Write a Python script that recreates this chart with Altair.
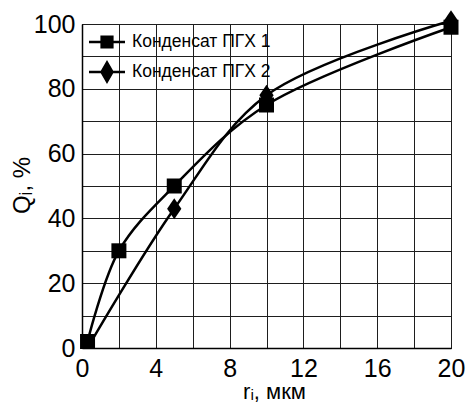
import altair as alt
import pandas as pd

# Series data
s1_name = "Конденсат ПГХ 1"
s1_x = [0.3, 2, 5, 10, 20]
s1_y = [2, 30, 50, 75, 99]
s1_marker = [True, True, True, True, True]

s2_name = "Конденсат ПГХ 2"
s2_x = [0.4, 5, 10, 20]
s2_y = [1, 43, 78, 101]
s2_marker = [False, True, True, True]

x_grid = list(range(0, 21, 2))
y_grid = list(range(0, 101, 10))

rows = []
for n, xs, ys, ms in [(s1_name, s1_x, s1_y, s1_marker), (s2_name, s2_x, s2_y, s2_marker)]:
    for x, y, m in zip(xs, ys, ms):
        rows.append({"series": n, "r": x, "q": y, "marker": m})
df = pd.DataFrame(rows)

FONT = "Liberation Sans"
SQUARE = "M-1,-1H1V1H-1Z"
DIAMOND = "M0,-1L0.68,0L0,1L-0.68,0Z"
LEG_SQ = "M-1.2,-0.085H1.2V0.085H-1.2Z M-0.44,-0.44H0.44V0.44H-0.44Z"
LEG_DI = "M-1.2,-0.085H1.2V0.085H-1.2Z M0,-0.8L0.46,0L0,0.8L-0.46,0Z"

xs = alt.X("r:Q", scale=alt.Scale(domain=[0, 20], nice=False),
           axis=alt.Axis(values=x_grid, labelExpr="datum.value % 4 == 0 ? datum.label : ''",
                         ticks=False, grid=True, gridColor="#1e1e1e", gridWidth=1,
                         domainColor="black", domainWidth=1.5,
                         labelFont=FONT, labelFontSize=25, labelColor="black", labelPadding=8,
                         labelFlush=False,
                         title="rᵢ, мкм", titleFont=FONT, titleFontSize=22, titleFontWeight="normal",
                         titleColor="black", titleX=192, titleY=50, titleAlign="center",
                         titleBaseline="alphabetic"))
ys = alt.Y("q:Q", scale=alt.Scale(domain=[0, 100], nice=False),
           axis=alt.Axis(values=y_grid, labelExpr="datum.value % 20 == 0 ? datum.label : ''",
                         ticks=False, grid=True, gridColor="#1e1e1e", gridWidth=1,
                         domainColor="black", domainWidth=1.5,
                         labelFont=FONT, labelFontSize=25, labelColor="black", labelPadding=7,
                         labelFlush=False,
                         title="Qᵢ, %", titleFont=FONT, titleFontSize=24, titleFontWeight="normal",
                         titleColor="black", titleX=-60, titleY=161, titleAlign="center",
                         titleBaseline="middle", titleAngle=270))

base = alt.Chart(df)

lines = base.mark_line(color="black", strokeWidth=2.5, interpolate="catmull-rom").encode(
    x=xs, y=ys, detail="series:N")

diamonds = base.transform_filter(
    (alt.datum.series == s2_name) & alt.datum.marker
).mark_point(shape=DIAMOND, filled=True, color="black", opacity=1, size=441).encode(x=xs, y=ys)

squares = base.transform_filter(
    (alt.datum.series == s1_name) & alt.datum.marker
).mark_point(shape=SQUARE, filled=True, color="black", opacity=1, size=225).encode(x=xs, y=ys)

legend_layer = base.mark_point(filled=True, color="black", opacity=0).encode(
    x=xs, y=ys,
    shape=alt.Shape("series:N",
                    scale=alt.Scale(domain=[s1_name, s2_name], range=[LEG_SQ, LEG_DI]),
                    legend=alt.Legend(title=None, orient="none", legendX=10, legendY=3,
                                      padding=0, rowPadding=6, symbolSize=900,
                                      symbolFillColor="black", symbolStrokeColor="black",
                                      symbolStrokeWidth=0, symbolOpacity=1,
                                      labelFont=FONT, labelFontSize=17.5, labelColor="black",
                                      labelOffset=10)))

chart = alt.layer(lines, diamonds, squares, legend_layer).properties(
    width=369, height=324,
    autosize=alt.AutoSizeParams(type="none"),
    padding={"left": 82, "top": 24, "right": 22, "bottom": 55},
    background="white",
).configure_view(stroke="black", strokeWidth=1)

chart.save("out.html", embed_options={"renderer": "svg", "actions": False})
